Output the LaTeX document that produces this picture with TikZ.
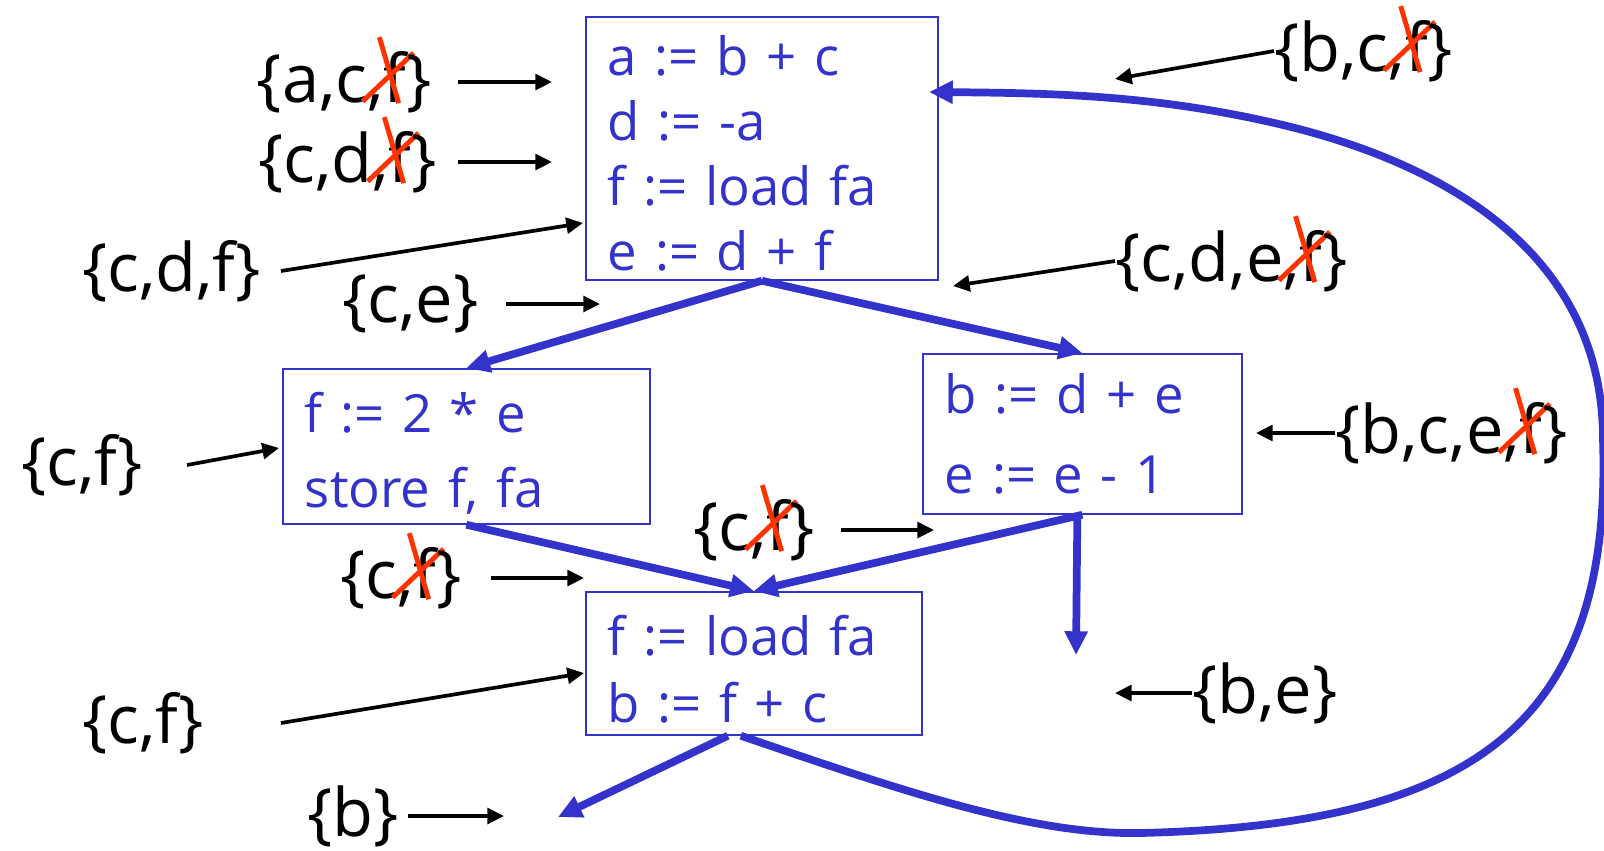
\documentclass[tikz,border=0pt]{standalone}
\usepackage{fontspec}
\setmainfont{Open Sans}
\usetikzlibrary{arrows.meta, calc}

\definecolor{flowBlue}{RGB}{51,51,204}
\definecolor{killRed}{RGB}{255,51,0}

\tikzset{crossLine/.style={draw=killRed, line width=2.8pt, overlay}}

% red cross over a killed variable
\newcommand{\struck}[1]{\tikz[baseline=(sym.base)]{%
  \node[inner sep=0pt, outer sep=0pt, anchor=base, draw=none] (sym) {#1};
  \draw[crossLine] ([shift={(-2.5pt,8pt)}]sym.north west) -- ([shift={(8.5pt,-0.5pt)}]sym.south west);
  \draw[crossLine] ([shift={(-12pt,0.5pt)}]sym.south west) -- ([shift={(17pt,-1pt)}]sym.north west);}}

\begin{document}
\begin{tikzpicture}[
    x=0.02cm, y=-0.02cm,
    % Node Styles
    block/.style={rectangle, draw=flowBlue, line width=1pt, text=flowBlue, align=left,
        anchor=north west, inner xsep=0.44cm, inner ysep=0pt,
        font=\fontsize{30}{36}\selectfont},
    liveSet/.style={inner sep=0pt, text=black, font=\fontsize{38}{45}\selectfont},
    % Connector Styles
    flow/.style={draw=flowBlue, line width=4.4pt, -{Triangle[length=13.5pt, width=12.5pt]}},
    setArrow/.style={draw=black, line width=2.1pt, -{Triangle[length=9.5pt, width=9pt]}}
]
\useasboundingbox (0,0) rectangle (1604,850);

% =========================================================
% BASIC BLOCKS
% =========================================================
\node[block, text width=6.16cm, minimum height=5.26cm] (blockA) at (585,16) {
    \rule{0pt}{29pt}a := b + c\\[1pt]
    d := -a\\[1pt]
    f := load fa\\[1pt]
    e := d + f
};
\node[block, text width=6.46cm, minimum height=3.1cm] (blockB) at (282,368) {
    \rule{0pt}{31pt}f := 2 * e\\[7pt]
    store f, fa
};
\node[block, text width=5.5cm, minimum height=3.2cm] (blockC) at (922,353) {
    b := d + e\\[9pt]
    e := e - 1
};
\node[block, text width=5.84cm, minimum height=2.86cm] (blockD) at (585,591) {
    \rule{0pt}{30pt}f := load fa\\[2pt]
    b := f + c
};

% =========================================================
% CONTROL FLOW
% =========================================================
\coordinate (exitC) at (1076,655);
\coordinate (exitD) at (558,817);
\coordinate (loopEnd) at (929,92);

\draw[flow] (blockA.south) -- (blockB.north);
\draw[flow] (blockA.south) -- (blockC.north);
\draw[flow] (blockB.south) -- (blockD.north);
\draw[flow] (blockC.south) -- (blockD.north);
\draw[flow] ([xshift=-0.1cm]blockC.south) -- (exitC);
\draw[flow] ([xshift=-0.52cm]blockD.south) -- (exitD);

% back edge
\draw[flow] ([xshift=-0.26cm]blockD.south) .. controls (900,790) and (1030,835) .. (1140,833)
    .. controls (1480,825) and (1612,720) .. (1603,440)
    .. controls (1603,250) and (1440,160) .. (1270,122)
    .. controls (1150,95) and (1050,93) .. (loopEnd);

% =========================================================
% LIVE VARIABLE SETS
% =========================================================
\node[liveSet, anchor=east] (setAcf) at (432,82) {\{a,c,\struck{f}\}};
\node[liveSet, anchor=east] (setCdfKill) at (437,162) {\{c,d,\struck{f}\}};
\node[liveSet, anchor=east] (setCdf) at (261,271) {\{c,d,f\}};
\node[liveSet, anchor=east] (setCe) at (479,304) {\{c,e\}};
\node[liveSet, anchor=west] (setBcf) at (1274,51) {\{b,c,\struck{f}\}};
\node[liveSet, anchor=west] (setCdef) at (1115,261) {\{c,d,e,\struck{f}\}};
\node[liveSet, anchor=east] (setCfB) at (143,465) {\{c,f\}};
\node[liveSet, anchor=west] (setBcef) at (1335,433) {\{b,c,e,\struck{f}\}};
\node[liveSet, anchor=east] (setCfMid) at (815,530) {\{c,\struck{f}\}};
\node[liveSet, anchor=east] (setCfIn) at (462,578) {\{c,\struck{f}\}};
\node[liveSet, anchor=east] (setCfD) at (204,723) {\{c,f\}};
\node[liveSet, anchor=west] (setBe) at (1192,693) {\{b,e\}};
\node[liveSet, anchor=east] (setB) at (399,816) {\{b\}};

\coordinate (atA1) at (552,82);
\coordinate (atA2) at (552,162);
\coordinate (atA3) at (583,223);
\coordinate (atA4) at (600,304);
\coordinate (atA0) at (1115,79);
\coordinate (atAout) at (953,286);
\coordinate (atB0) at (279,448);
\coordinate (atC0) at (1256,433);
\coordinate (atCout) at (934,530);
\coordinate (atD0) at (584,578);
\coordinate (atD1) at (584,673);
\coordinate (atCexit) at (1115,693);
\coordinate (atDexit) at (504,816);

\draw[setArrow] ([xshift=0.52cm]setAcf.east) -- (atA1);
\draw[setArrow] ([xshift=0.42cm]setCdfKill.east) -- (atA2);
\draw[setArrow] ([xshift=0.4cm]setCdf.east) -- (atA3);
\draw[setArrow] ([xshift=0.54cm]setCe.east) -- (atA4);
\draw[setArrow] (setBcf.west) -- (atA0);
\draw[setArrow] (setCdef.west) -- (atAout);
\draw[setArrow] ([xshift=0.88cm]setCfB.east) -- (atB0);
\draw[setArrow] (setBcef.west) -- (atC0);
\draw[setArrow] ([xshift=0.52cm]setCfMid.east) -- (atCout);
\draw[setArrow] ([xshift=0.58cm]setCfIn.east) -- (atD0);
\draw[setArrow] ([xshift=1.54cm]setCfD.east) -- (atD1);
\draw[setArrow] (setBe.west) -- (atCexit);
\draw[setArrow] ([xshift=0.18cm]setB.east) -- (atDexit);

\end{tikzpicture}
\end{document}
